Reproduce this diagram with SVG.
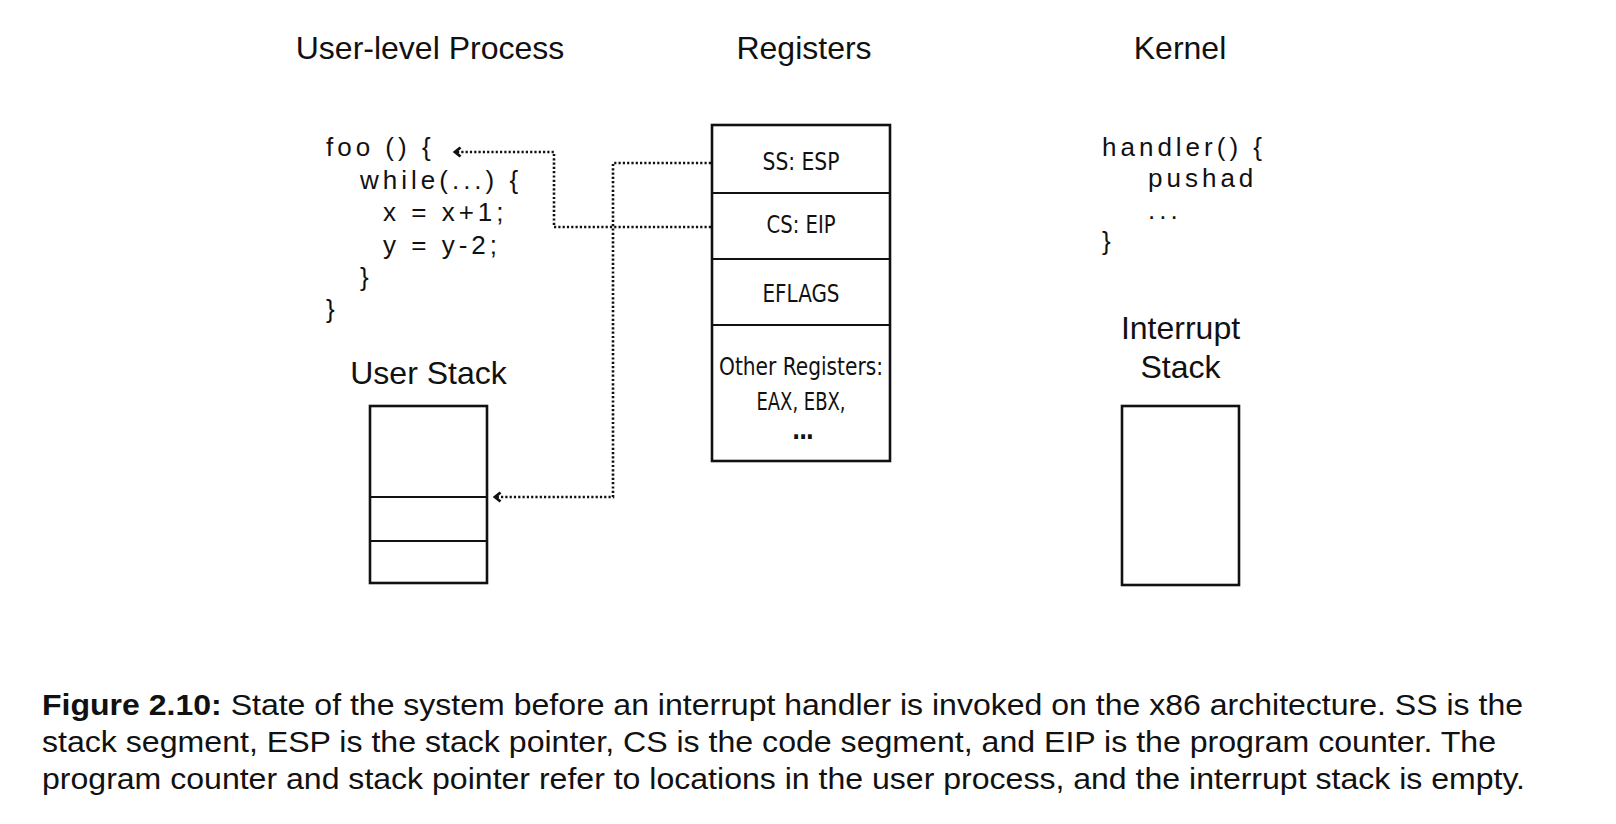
<svg xmlns="http://www.w3.org/2000/svg" width="1616" height="824" viewBox="0 0 1616 824">
<style>
.t{font-family:"Liberation Sans",Arial,Helvetica,sans-serif;fill:#111}
.title{font-size:32px;text-anchor:middle}
.code{font-size:26px;letter-spacing:4px}
.reg{font-family:"Liberation Sans Narrow","DejaVu Sans Condensed","Liberation Sans",sans-serif;font-size:24px;text-anchor:middle;fill:#111}
.box{fill:#fff;stroke:#111;stroke-width:2.6}
.div{stroke:#111;stroke-width:2;fill:none}
.conn{fill:none;stroke:#111;stroke-width:2.6;stroke-dasharray:2.2 2.1}
.cap{font-size:30px}
</style>
<defs>
<marker id="arr" viewBox="0 0 12 12" refX="10" refY="6" markerWidth="12" markerHeight="12" markerUnits="userSpaceOnUse" orient="auto">
<path d="M4.5,1.5 L10,6 L4.5,10.5" fill="none" stroke="#111" stroke-width="2.8"/>
</marker>
</defs>
<rect width="1616" height="824" fill="#fff"/>

<g id="titles">
<text class="t title" x="430" y="59">User-level Process</text>
<text class="t title" x="804" y="59">Registers</text>
<text class="t title" x="1180" y="59">Kernel</text>
</g>

<g id="user-code">
<text class="t code" x="326" y="156">foo () {</text>
<text class="t code" x="360" y="189">while(...) {</text>
<text class="t code" x="383" y="221">x = x+1;</text>
<text class="t code" x="383" y="254">y = y-2;</text>
<text class="t code" x="360" y="286">}</text>
<text class="t code" x="326" y="318">}</text>
</g>

<g id="user-stack">
<text class="t title" x="428.5" y="384">User Stack</text>
<rect class="box" x="370" y="406" width="117" height="177"/>
<line class="div" x1="370" y1="497" x2="487" y2="497"/>
<line class="div" x1="370" y1="541" x2="487" y2="541"/>
</g>

<g id="registers">
<rect class="box" x="712" y="125" width="178" height="336"/>
<line class="div" x1="712" y1="193" x2="890" y2="193"/>
<line class="div" x1="712" y1="259" x2="890" y2="259"/>
<line class="div" x1="712" y1="325" x2="890" y2="325"/>
<text class="reg" x="801" y="170" textLength="77" lengthAdjust="spacingAndGlyphs">SS: ESP</text>
<text class="reg" x="801" y="233" textLength="69" lengthAdjust="spacingAndGlyphs">CS: EIP</text>
<text class="reg" x="801" y="302" textLength="77" lengthAdjust="spacingAndGlyphs">EFLAGS</text>
<text class="reg" x="801" y="375" textLength="164" lengthAdjust="spacingAndGlyphs">Other Registers:</text>
<text class="reg" x="801" y="410" textLength="89" lengthAdjust="spacingAndGlyphs">EAX, EBX,</text>
<text class="reg" x="803" y="439" font-weight="bold" textLength="22" lengthAdjust="spacing">...</text>
</g>

<g id="kernel-code">
<text class="t code" x="1102" y="156">handler() {</text>
<text class="t code" x="1148" y="187">pushad</text>
<text class="t code" x="1148" y="219">...</text>
<text class="t code" x="1102" y="250">}</text>
</g>

<g id="interrupt-stack">
<text class="t title" x="1180.5" y="339">Interrupt</text>
<text class="t title" x="1180.5" y="378">Stack</text>
<rect class="box" x="1122" y="406" width="117" height="179"/>
</g>

<g id="connectors">
<path class="conn" d="M711,227 H554 V152 H455" marker-end="url(#arr)"/>
<path class="conn" d="M711,163 H613 V497 H495" marker-end="url(#arr)"/>
</g>

<g id="caption">
<text class="t cap" x="42" y="715" textLength="1481" lengthAdjust="spacingAndGlyphs"><tspan font-weight="bold">Figure 2.10:</tspan> State of the system before an interrupt handler is invoked on the x86 architecture. SS is the</text>
<text class="t cap" x="42" y="752" textLength="1454" lengthAdjust="spacingAndGlyphs">stack segment, ESP is the stack pointer, CS is the code segment, and EIP is the program counter. The</text>
<text class="t cap" x="42" y="789" textLength="1483" lengthAdjust="spacingAndGlyphs">program counter and stack pointer refer to locations in the user process, and the interrupt stack is empty.</text>
</g>
</svg>
